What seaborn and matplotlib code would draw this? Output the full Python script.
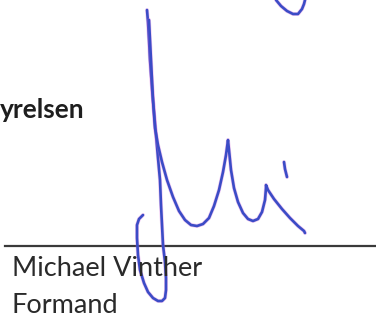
import pandas as pd
import seaborn as sns
import matplotlib.pyplot as plt

# signature strokes in pixel coordinates (y grows downward)
loop_x = [143, 139, 137, 137, 138, 140, 144, 148, 153, 158, 162, 165, 166, 166, 165, 163, 162, 161, 160, 158, 156, 154, 152, 150, 149, 148, 147]
loop_y = [215, 219, 225, 238, 255, 270, 283, 292, 298, 301, 301, 298, 290, 278, 262, 245, 225, 205, 180, 158, 135, 112, 88, 60, 40, 22, 10]

m_x = [149, 151, 153, 155, 158, 162, 167, 173, 179, 185, 191, 197, 203, 209, 214, 219, 223, 226, 228, 229, 231, 234, 238, 243, 248, 253, 258, 262, 265, 266, 266, 268, 274, 282, 290, 298, 304, 305]
m_y = [20, 60, 100, 128, 145, 162, 180, 197, 211, 220, 225, 226, 224, 218, 206, 190, 172, 155, 140, 150, 170, 188, 202, 213, 219, 221, 219, 212, 200, 188, 185, 190, 199, 209, 218, 226, 231, 233]

hook_x = [276, 281, 287, 293, 298, 302, 304, 305]
hook_y = [0, 6, 11, 14, 14, 9, 4, 0]

dot_x = [284, 285, 287]
dot_y = [162, 169, 177]

rule_x = [5, 376]
rule_y = [246, 246]

strokes = [(loop_x, loop_y), (m_x, m_y), (hook_x, hook_y), (dot_x, dot_y)]

fig = plt.figure(figsize=(3.76, 3.18), dpi=100)
ax = fig.add_axes([0, 0, 1, 1])

# the signature line
sns.lineplot(x=rule_x, y=rule_y, sort=False, estimator=None, color='#3a3a3a', linewidth=1.6, ax=ax)

# the ink
for sx, sy in strokes:
    df = pd.DataFrame({'x': sx, 'y': sy})
    sns.lineplot(data=df, x='x', y='y', sort=False, estimator=None, color='#cf5fd8', linewidth=2.8,
                 alpha=0.35, ax=ax, solid_capstyle='round', solid_joinstyle='round')
    sns.lineplot(data=df, x='x', y='y', sort=False, estimator=None, color='#3b4cc6', linewidth=1.9,
                 ax=ax, solid_capstyle='round', solid_joinstyle='round')

ax.text(0, 118, 'yrelsen', fontsize=19, fontweight='bold', family='Lato', color='#1e1e1e')
ax.text(12, 276, 'Michael Vinther', fontsize=19.5, family='Lato', color='#2a2a2a')
ax.text(12, 313, 'Formand', fontsize=19.5, family='Lato', color='#2a2a2a')

ax.set_xlim(0, 376)
ax.set_ylim(318, 0)
ax.axis('off')

plt.savefig('out.png', dpi=100)
